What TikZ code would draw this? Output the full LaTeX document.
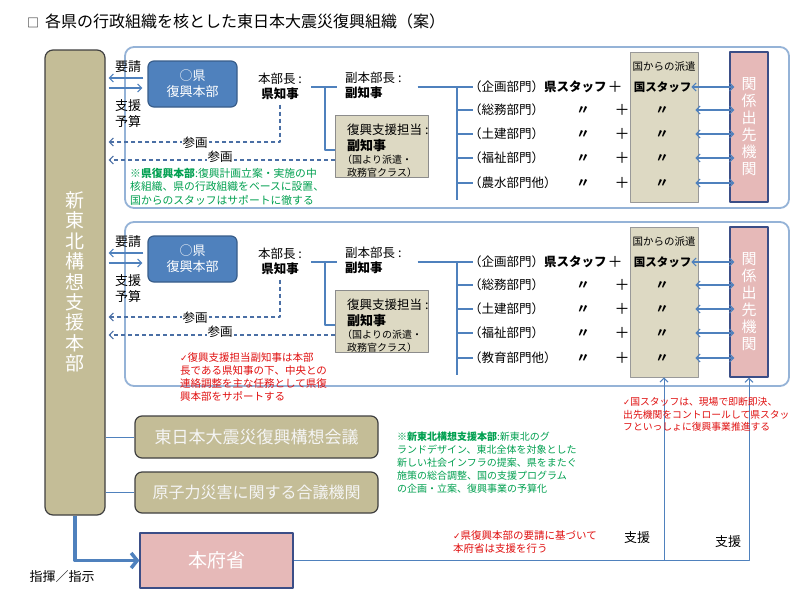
\documentclass[tikz,border=0pt]{standalone}
\usepackage{fontspec}
\setmainfont{Noto Sans CJK JP}
\newfontfamily\djv{DejaVu Sans}
\usetikzlibrary{arrows.meta,calc}
\definecolor{tanF}{HTML}{C4BD97}
\definecolor{tanL}{HTML}{DDD9C3}
\definecolor{pinkF}{HTML}{E6B9B8}
\definecolor{blueF}{HTML}{4F81BD}
\definecolor{blueD}{HTML}{385D8A}
\definecolor{panelB}{HTML}{95B3D7}
\definecolor{navyB}{HTML}{3B4E87}
\definecolor{dashC}{HTML}{4A6FA5}
\definecolor{grnT}{HTML}{00A050}
\definecolor{redT}{HTML}{E01010}
\newcommand\fpx[2]{\fontsize{#1}{#2}\selectfont}
\tikzset{
 lbl/.style={inner sep=0pt, font=\fpx{12.5}{15}},
 small/.style={inner sep=0pt, font=\fpx{10}{12}},
 note/.style={inner sep=0pt, align=left, font=\fpx{10.5}{13}},
 panel/.style={draw=panelB, line width=1.8pt, rounded corners=9pt},
 kenbox/.style={draw=blueD, line width=1.2pt, fill=blueF, rounded corners=6pt, minimum width=89pt, minimum height=46pt, inner sep=0pt, text=white, align=center, font=\fpx{13}{16}},
 sbox/.style={draw=black!45, line width=0.8pt, fill=tanL, minimum width=93pt, minimum height=62pt, inner sep=0pt},
 kbox/.style={draw=black!40, line width=0.8pt, fill=tanL, minimum width=68pt, minimum height=150pt, inner sep=0pt},
 kkbox/.style={draw=navyB, line width=1.2pt, fill=pinkF, minimum width=38pt, minimum height=150pt, inner sep=0pt, text=white, align=center, font=\fpx{15}{17}},
 hqbox/.style={draw=black!75, line width=1.2pt, fill=tanF, rounded corners=8pt, minimum width=60pt, minimum height=465pt, inner sep=0pt},
 hqtext/.style={inner sep=0pt, text=white, align=center, font=\fpx{19}{20.4}},
 tbox/.style={draw=black!75, line width=1.2pt, fill=tanF, rounded corners=7pt, minimum width=243pt, minimum height=42pt, inner sep=0pt, text=white!96!black},
 hbox/.style={draw=navyB, line width=1.2pt, fill=pinkF, minimum width=153pt, minimum height=55pt, inner sep=0pt, text=white, font=\fpx{19}{22}},
 brk/.style={draw=blueF, line width=2.6pt},
 thinarr/.style={draw=blueF, line width=1.1pt, -{Straight Barb[length=4pt,width=8pt]}},
 dbl/.style={draw=blueF, line width=1.1pt, {Straight Barb[length=4pt,width=8pt]}-{Straight Barb[length=4pt,width=8pt]}},
 dasharr/.style={draw=dashC, line width=1.1pt, dash pattern=on 4pt off 3pt, -{Straight Barb[length=4pt,width=8pt]}},
 conn/.style={draw=blueF, line width=1pt},
 bigarr/.style={draw=blueF, line width=3.5pt, -{Straight Barb[length=6pt,width=15pt]}},
 sup/.style={draw=blueF, line width=1pt, -{Straight Barb[length=4pt,width=8pt]}},
 plus/.style={inner sep=0pt, font=\fpx{15}{15}},
 ditto/.style={inner sep=0pt, font=\bfseries\fpx{13}{13}},
}
% #1 shift, #2 suffix, #3 panel bottom, #4 shien line 3, #5 row 5 label
\newcommand\grp[5]{%
\begin{scope}[shift={(0,#1)}]
\draw[panel] (125,47) rectangle (789,#3);
\node[kenbox] (ken#2) at (192.5,84) {○県\\復興本部};
\coordinate (ya#2) at (0,78);
\coordinate (yb#2) at (0,88);
\draw[thinarr, shorten <=4pt, shorten >=3pt] (ken#2.west |- ya#2) -- (hq.east |- ya#2);
\draw[thinarr, shorten <=3pt, shorten >=5pt] (hq.east |- yb#2) -- (ken#2.west |- yb#2);
\node[lbl, font=\fpx{13}{15}] (yo#2) at (128,67) {要請};
\node[lbl, font=\fpx{13}{15}] (si#2) at (128,106) {支援};
\node[lbl, font=\fpx{13}{15}] (yg#2) at (128,122) {予算};
\node[lbl, align=center] (chiji#2) at (280,86) {本部長 :\\\textbf{県知事}};
\node[lbl, align=left, anchor=west] (fuku#2) at (345,85) {副本部長 :\\\textbf{副知事}};
\node[sbox] (sb#2) at (381.5,146) {};
\node[lbl, anchor=west] (sba#2) at (347,130) {復興支援担当 :};
\node[lbl, anchor=west, font=\fpx{13}{15}] (sbb#2) at (347,146) {\textbf{副知事}};
\node[small, anchor=west] (sbc#2) at (342,160) {#4};
\node[small, anchor=west] (sbd#2) at (347,173) {政務官クラス）};
% rows
\node[kbox] (kuni#2) at (664,127) {};
\node[small, font=\fpx{10.5}{12}] (kh#2) at (664,67) {国からの派遣};
\node[kkbox] (kk#2) at (749,127) {関\\係\\出\\先\\機\\関};
\node[lbl, anchor=west] (r1#2) at (469,87) {（企画部門）\textbf{県スタッフ}};
\node[lbl, anchor=west] (r2#2) at (469,110) {（総務部門）};
\node[lbl, anchor=west] (r3#2) at (469,134) {（土建部門）};
\node[lbl, anchor=west] (r4#2) at (469,158) {（福祉部門）};
\node[lbl, anchor=west] (r5#2) at (469,183) {#5};
\node[plus] (p1#2) at (615,87) {＋};
\node[lbl, font=\fpx{11.5}{13}] (k1#2) at (662.5,87) {\textbf{国スタッフ}};
\node[ditto] (da2#2) at (583,110) {〃};
\node[ditto] (da3#2) at (583,134) {〃};
\node[ditto] (da4#2) at (583,158) {〃};
\node[ditto] (da5#2) at (583,183) {〃};
\node[plus] (p2#2) at (622,110) {＋};
\node[plus] (p3#2) at (622,134) {＋};
\node[plus] (p4#2) at (622,158) {＋};
\node[plus] (p5#2) at (622,183) {＋};
\node[ditto] (db2#2) at (662,110) {〃};
\node[ditto] (db3#2) at (662,134) {〃};
\node[ditto] (db4#2) at (662,158) {〃};
\node[ditto] (db5#2) at (662,183) {〃};
% double arrows
\draw[dbl] ($(kuni#2.east |- r1#2)+(-7,0)$) -- ($(kk#2.west |- r1#2)+(5,0)$);
\draw[dbl] ($(kuni#2.east |- r2#2)+(-3,0)$) -- ($(kk#2.west |- r2#2)+(5,0)$);
\draw[dbl] ($(kuni#2.east |- r3#2)+(-3,0)$) -- ($(kk#2.west |- r3#2)+(5,0)$);
\draw[dbl] ($(kuni#2.east |- r4#2)+(-3,0)$) -- ($(kk#2.west |- r4#2)+(5,0)$);
\draw[dbl] ($(kuni#2.east |- r5#2)+(-3,0)$) -- ($(kk#2.west |- r5#2)+(5,0)$);
% brackets
\draw[brk] ($(chiji#2.east |- r1#2)+(9,0)$) -- ($(fuku#2.west |- r1#2)+(-8,0)$);
\coordinate (tv#2) at (325,87);
\coordinate (tb#2) at (0,150);
\draw[brk] (tv#2) |- (sb#2.west |- tb#2);
\draw[brk] ($(fuku#2.east |- r1#2)+(16,0)$) -- ($(r1#2.west)+(4,0)$);
\coordinate (fv#2) at (457,87);
\coordinate (fe#2) at (457,200);
\draw[brk] (fv#2) -- (fe#2);
\draw[brk] (fv#2 |- r2#2) -- ($(r2#2.west)+(4,0)$);
\draw[brk] (fv#2 |- r3#2) -- ($(r3#2.west)+(4,0)$);
\draw[brk] (fv#2 |- r4#2) -- ($(r4#2.west)+(4,0)$);
\draw[brk] (fv#2 |- r5#2) -- ($(r5#2.west)+(4,0)$);
% dashed
\coordinate (d1#2) at (0,142);
\coordinate (d2#2) at (0,160);
\draw[dasharr, shorten <=5pt, shorten >=3pt] (chiji#2.south) |- (hq.east |- d1#2);
\node[lbl, fill=white, inner sep=1pt] (sa1#2) at (195,143) {参画};
\draw[dasharr, shorten >=3pt] (sb#2.west |- d2#2) -- (hq.east |- d2#2);
\node[lbl, fill=white, inner sep=1pt] (sa2#2) at (220,157) {参画};
\end{scope}}
\begin{document}
\begin{tikzpicture}[x=1pt,y=-1pt,line join=round]
\fill[white] (0,0) rectangle (800,600);
\useasboundingbox (0,0) rectangle (800,600);
\node[anchor=west, inner sep=0pt, font=\fpx{16}{18}] (title) at (27,21) {{\fpx{12}{14}□}\hspace{6pt}各県の行政組織を核とした東日本大震災復興組織（案）};
\node[hqbox] (hq) at (75,282.5) {};
\node[hqtext] (hqt) at (75,282) {新\\東\\北\\構\\想\\支\\援\\本\\部};
\grp{0}{A}{208}{（国より派遣・}{（農水部門他）}
\grp{175}{B}{211}{（国よりの派遣・}{（教育部門他）}
% bottom
\node[tbox, font=\fpx{17}{19}] (kaigi) at (256.5,437) {東日本大震災復興構想会議};
\node[tbox, font=\fpx{16}{19}, minimum height=41pt] (gensi) at (256.5,492.5) {原子力災害に関する合議機関};
\draw[conn] (hq.east |- kaigi) -- (kaigi.west);
\draw[conn] (hq.east |- gensi) -- (gensi.west);
\node[hbox] (honfu) at (216.5,560.5) {本府省};
\draw[bigarr] (hq.south) |- (honfu.west);
\node[lbl, font=\fpx{13}{15}] (shiki) at (62,577) {指揮／指示};
\draw[sup] (honfu.east) -| (kkB.south);
\draw[sup] (honfu.east -| kuniB.south) -- (kuniB.south);
\node[lbl, font=\fpx{13}{15}] (sien1) at (637,538) {支援};
\node[lbl, font=\fpx{13}{15}] (sien2) at (728,542) {支援};
% notes
\node[note, text=grnT, anchor=west, font=\fpx{10.8}{13.5}] (n1) at (130,186.5) {\textbf{※県復興本部}:復興計画立案・実施の中\\核組織、県の行政組織をベースに設置、\\国からのスタッフはサポートに徹する};
\node[note, text=redT, anchor=west] (n2) at (180,377.5) {{\djv\fpx{9}{13}✓}復興支援担当副知事は本部\\長である県知事の下、中央との\\連絡調整を主な任務として県復\\興本部をサポートする};
\node[note, text=redT, anchor=west, font=\fpx{9.8}{12.5}] (n3) at (623,414.5) {{\djv\fpx{8.5}{12.5}✓}国スタッフは、現場で即断即決、\\出先機関をコントロールして県スタッ\\フといっしょに復興事業推進する};
\node[note, text=redT, anchor=west] (n4) at (453,542.5) {{\djv\fpx{9}{13}✓}県復興本部の要請に基づいて\\本府省は支援を行う};
\node[note, text=grnT, anchor=west, font=\fpx{10}{13}] (n5) at (397,463) {\textbf{※新東北構想支援本部}:新東北のグ\\ランドデザイン、東北全体を対象とした\\新しい社会インフラの提案、県をまたぐ\\施策の総合調整、国の支援プログラム\\の企画・立案、復興事業の予算化};
\end{tikzpicture}
\end{document}
